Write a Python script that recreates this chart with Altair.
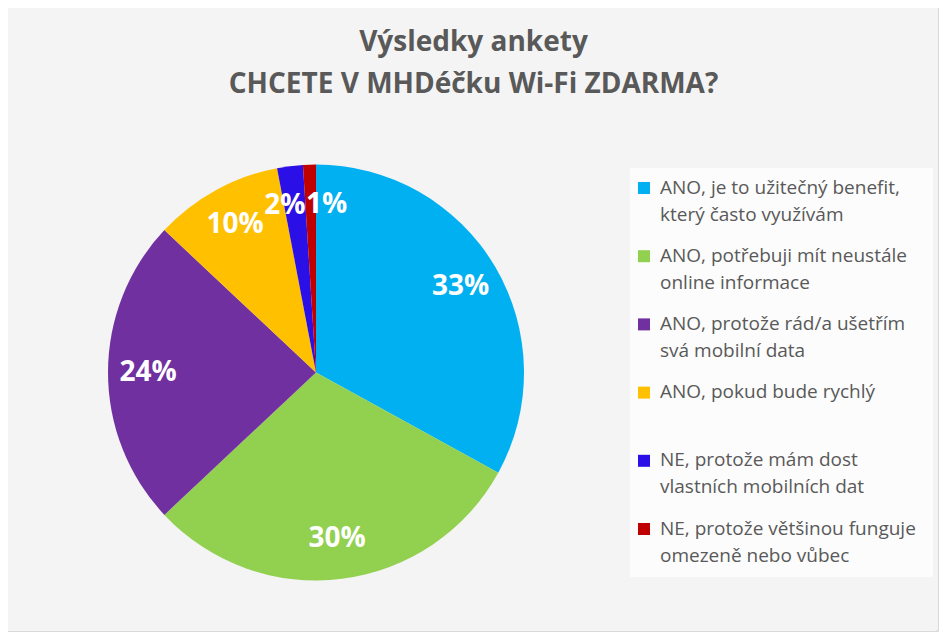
import altair as alt
import pandas as pd

categories = [
    "ANO, je to užitečný benefit,\nkterý často využívám",
    "ANO, potřebuji mít neustále\nonline informace",
    "ANO, protože rád/a ušetřím\nsvá mobilní data",
    "ANO, pokud bude rychlý",
    "NE, protože mám dost\nvlastních mobilních dat",
    "NE, protože většinou funguje\nomezeně nebo vůbec",
]
values = [33, 30, 24, 10, 2, 1]
labels = ["33%", "30%", "24%", "10%", "2%", "1%"]
colors = ["#00B0F0", "#92D050", "#7030A0", "#FFC000", "#2A0FE6", "#C00000"]
title_lines = ["Výsledky ankety", "CHCETE V MHDéčku Wi-Fi ZDARMA?"]

FONT = "Open Sans"
TXT = "#595959"

df = pd.DataFrame({
    "cat": categories,
    "value": values,
    "label": labels,
    "order": list(range(len(categories))),
})
one = pd.DataFrame({"a": [0]})
title_df = pd.DataFrame({"t": ["\n".join(title_lines)]})

CX, CY, R = 308, 254.5, 208

color_enc = alt.Color("cat:N", scale=alt.Scale(domain=categories, range=colors), legend=None)

frame = alt.Chart(one).mark_rect(
    fill="transparent", stroke="#D9D9D9", strokeWidth=2, cornerRadius=4
).encode(x=alt.value(-7), x2=alt.value(931), y=alt.value(-117), y2=alt.value(514))

legend_box = alt.Chart(one).mark_rect(fill="#FCFCFC").encode(
    x=alt.value(622), x2=alt.value(925), y=alt.value(50), y2=alt.value(459)
)

title = alt.Chart(title_df).mark_text(
    align="center", baseline="alphabetic", lineBreak="\n", lineHeight=42.6,
    fontSize=28, fontWeight="bold", font=FONT, color=TXT
).encode(x=alt.value(465.5), y=alt.value(-67.3), text="t:N")

pie = alt.Chart(df).mark_arc(radius=R).encode(
    theta=alt.Theta("value:Q", stack=True),
    color=color_enc,
    order=alt.Order("order:Q"),
    x=alt.value(CX),
    y=alt.value(CY),
)

def pie_text(dx=0, show=None):
    base = alt.Chart(df).mark_text(
        radius=168, fontSize=28, fontWeight="bold", font=FONT, color="white", dx=dx
    )
    if show is None:
        op = alt.condition(
            (alt.datum.label == "2%") | (alt.datum.label == "1%"), alt.value(0), alt.value(1)
        )
    else:
        op = alt.condition(alt.datum.label == show, alt.value(1), alt.value(0))
    return base.encode(
        theta=alt.Theta("value:Q", stack=True),
        order=alt.Order("order:Q"),
        text="label:N",
        opacity=op,
        x=alt.value(CX),
        y=alt.value(CY),
    )

yscale = alt.Scale(type="point", domain=categories, range=[70, 411], padding=0)

leg_sym = alt.Chart(df).mark_square(size=144, opacity=1).encode(
    y=alt.Y("cat:N", scale=yscale, axis=None),
    x=alt.value(636),
    color=color_enc,
)

leg_txt = alt.Chart(df).mark_text(
    align="left", baseline="line-top", lineBreak="\n", lineHeight=27,
    fontSize=19, font=FONT, color=TXT, dy=-13.5
).encode(
    y=alt.Y("cat:N", scale=yscale, axis=None),
    x=alt.value(652),
    text="cat:N",
)

chart = alt.layer(
    legend_box, pie, pie_text(), pie_text(-10, "2%"), pie_text(16, "1%"),
    leg_sym, leg_txt, title, frame
).properties(
    width=931,
    height=514,
    autosize=alt.AutoSizeParams(type="none"),
    padding={"left": 0, "top": 110, "right": 0, "bottom": 0},
    background="#F4F4F4",
).configure_view(stroke=None)

chart.save("out.html", embed_options={"renderer": "svg", "actions": False})
